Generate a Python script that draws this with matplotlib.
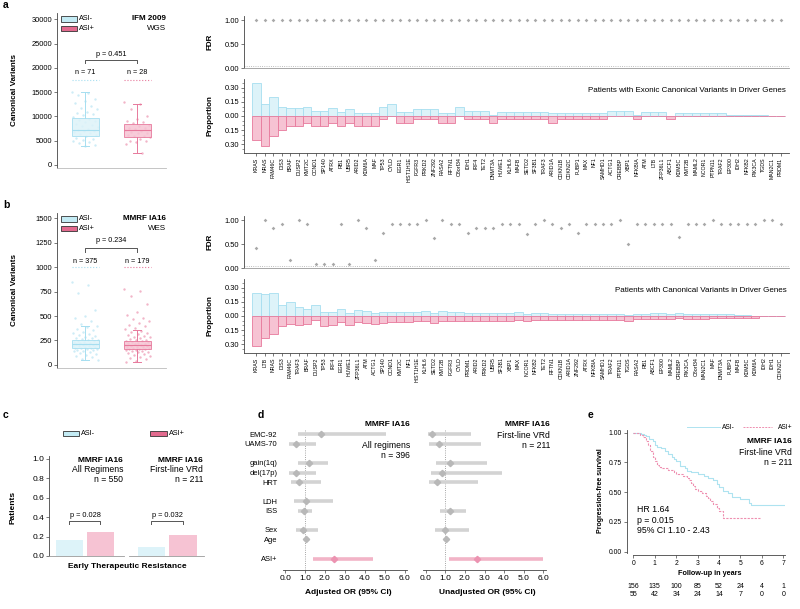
import matplotlib
matplotlib.use("Agg")
import matplotlib.pyplot as plt
import numpy as np
from matplotlib.patches import Rectangle
from matplotlib.lines import Line2D

plt.rcParams['font.family'] = ['Liberation Sans', 'DejaVu Sans']

# ---------------- data ----------------
genes_a = ["KRAS", "NRAS", "FAM46C", "DIS3", "BRAF", "DUSP2", "KMT2C", "CCND1", "SP140", "ATRX",
           "RB1", "UBR5", "ARID2", "KDM6A", "MAF", "TP53", "CYLD", "EGR1", "HIST1H1E", "FGFR3",
           "PRKD2", "ZNF292", "RASA2", "RFTN1", "C8orf34", "IDH1", "IRF4", "TET2", "DNMT3A", "HUWE1",
           "KLHL6", "MAFB", "SETD2", "SF3B1", "TRAF3", "ARID1A", "CDKN1B", "CDKN2C", "FUBP1", "MAX",
           "NF1", "SAMHD1", "ACTG1", "CREBBP", "XBP1", "NFKBIA", "ATM", "LTB", "ZFP36L1", "ABCF1",
           "KDM5C", "KMT2B", "MAML2", "NCOR1", "PTPN11", "TRAF2", "EP300", "IDH2", "NFKB2", "PIK3CA",
           "TGDS", "MAN2C1", "PRDM1"]
# patients with variants (counts), IFM 2009: ASI- n=71, ASI+ n=28
a_neg_counts = [25, 9, 14, 7, 6, 6, 7, 4, 4, 6,
                3, 5, 2, 2, 2, 7, 9, 3, 3, 5,
                5, 5, 2, 2, 7, 4, 4, 4, 1, 3,
                3, 3, 3, 3, 3, 2, 2, 2, 2, 2,
                2, 2, 4, 4, 4, 1, 3, 3, 3, 0,
                2, 2, 2, 2, 2, 2, 1, 1, 1, 1,
                1, 0, 0]
a_pos_counts = [7, 9, 6, 4, 3, 3, 2, 3, 3, 2,
                3, 2, 3, 3, 3, 1, 0, 2, 2, 1,
                1, 1, 2, 2, 0, 1, 1, 1, 2, 1,
                1, 1, 1, 1, 1, 2, 1, 1, 1, 1,
                1, 1, 0, 0, 0, 1, 0, 0, 0, 1,
                0, 0, 0, 0, 0, 0, 0, 0, 0, 0,
                0, 0, 0]
a_n_neg, a_n_pos = 71, 28
a_fdr = [1.0] * 63

genes_b = ["KRAS", "LTB", "NRAS", "DIS3", "FAM46C", "TRAF3", "BRAF", "DUSP2", "TP53", "IRF4",
           "EGR1", "HUWE1", "ZFP36L1", "ATM", "ACTG1", "SP140", "CCND1", "KMT2C", "NF1", "HIST1H1E",
           "KLHL6", "SETD2", "KMT2B", "FGFR3", "CYLD", "PRDM1", "ARID2", "PRKD2", "UBR5", "SF3B1",
           "XBP1", "MAX", "NCOR1", "NFKB2", "TET2", "RFTN1", "CDKN1B", "ARID1A", "ZNF292", "ATRX",
           "NFKBIA", "SAMHD1", "TRAF2", "PTPN11", "TGDS", "RASA2", "RB1", "ABCF1", "EP300", "MAML2",
           "CREBBP", "PIK3CA", "C8orf34", "MAN2C1", "MAF", "DNMT3A", "FUBP1", "MAFB", "KDM5C", "KDM6A",
           "IDH2", "IDH1", "CDKN2C"]
b_neg = [0.240, 0.235, 0.245, 0.115, 0.145, 0.092, 0.072, 0.117, 0.040, 0.040,
         0.072, 0.032, 0.064, 0.050, 0.032, 0.043, 0.045, 0.043, 0.043, 0.045,
         0.050, 0.032, 0.050, 0.043, 0.037, 0.035, 0.035, 0.032, 0.032, 0.032,
         0.032, 0.037, 0.020, 0.027, 0.029, 0.019, 0.019, 0.021, 0.019, 0.019,
         0.019, 0.019, 0.019, 0.021, 0.011, 0.019, 0.024, 0.027, 0.027, 0.021,
         0.030, 0.021, 0.024, 0.024, 0.016, 0.016, 0.016, 0.011, 0.008, 0.005,
         0.005, 0.005, 0.003]
b_pos = [0.315, 0.235, 0.195, 0.110, 0.080, 0.092, 0.088, 0.045, 0.110, 0.100,
         0.060, 0.100, 0.067, 0.078, 0.085, 0.070, 0.060, 0.060, 0.060, 0.056,
         0.056, 0.074, 0.056, 0.056, 0.050, 0.053, 0.050, 0.050, 0.050, 0.050,
         0.050, 0.039, 0.050, 0.046, 0.039, 0.039, 0.039, 0.039, 0.039, 0.039,
         0.039, 0.039, 0.039, 0.039, 0.050, 0.035, 0.035, 0.028, 0.028, 0.035,
         0.025, 0.035, 0.028, 0.028, 0.021, 0.021, 0.021, 0.021, 0.018, 0.018,
         0.004, 0.004, 0.000]
b_fdr = [0.42, 1.00, 0.84, 0.93, 0.17, 1.00, 0.93, 0.10, 0.10, 0.10,
         0.93, 0.10, 1.00, 0.84, 0.17, 0.74, 0.92, 0.92, 0.92, 0.93,
         1.00, 0.64, 1.00, 0.92, 0.93, 0.74, 0.84, 0.84, 0.84, 0.92,
         0.92, 0.93, 0.72, 0.92, 1.00, 0.92, 0.84, 0.93, 0.74, 0.93,
         0.92, 0.92, 0.92, 1.00, 0.51, 0.93, 0.93, 0.93, 0.93, 0.93,
         0.66, 0.93, 0.93, 0.93, 1.00, 0.93, 0.93, 0.92, 0.93, 0.92,
         1.00, 1.00, 0.93]

# canonical variants per patient (box: whislo, q1, median, q3, whishi)
a_box_neg = [4000, 6000, 7200, 9700, 15000]
a_box_pos = [2500, 5800, 7200, 8400, 12500]
a_pts_neg = [15000, 14800, 14500, 13600, 13200, 12800, 12200, 11800, 11500, 11000,
             10800, 10600, 10200, 9900, 9500, 9300, 9000, 8800, 8500, 8200,
             8000, 7800, 7500, 7300, 7100, 6900, 6700, 6500, 6300, 6100,
             5900, 5600, 5400, 5200, 5000, 4800, 4500, 4200, 4000]
a_pts_pos = [13000, 12500, 11500, 10000, 9500, 9000, 8900, 8600, 8300, 8000,
             7700, 7600, 7400, 7200, 7000, 6800, 6600, 6500, 6200, 6000,
             5900, 5700, 5400, 5000, 4900, 4700, 4400, 2500]
b_box_neg = [50, 175, 210, 250, 400]
b_box_pos = [35, 160, 200, 245, 360]
b_pts_neg = [850, 820, 740, 560, 500, 480, 450, 420, 400, 385, 370, 355, 340, 330, 320,
             310, 300, 290, 280, 272, 265, 258, 250, 245, 240, 235, 230, 226, 222, 218,
             214, 210, 206, 202, 198, 194, 190, 186, 182, 178, 174, 170, 165, 160, 155,
             150, 145, 140, 130, 120, 110, 100, 90, 80, 65, 50]
b_pts_pos = [780, 760, 700, 620, 540, 510, 480, 470, 450, 430, 410, 395, 380, 365, 350,
             340, 330, 320, 310, 300, 290, 282, 275, 268, 260, 254, 248, 242, 236, 230,
             225, 220, 215, 210, 205, 200, 196, 192, 188, 184, 180, 176, 172, 168, 164,
             160, 155, 150, 145, 140, 135, 130, 120, 110, 100, 90, 80, 70, 60, 45, 35]

# early therapeutic resistance
c_groups = ["All Regimens", "First-line VRd"]
c_n = [550, 211]
c_neg = [0.165, 0.095]
c_pos = [0.252, 0.216]
c_p = ["p = 0.028", "p = 0.032"]

# odds ratios
d_rows = ["EMC-92", "UAMS-70", "gain(1q)", "del(17p)", "HRT", "LDH", "ISS", "Sex", "Age", "ASI+"]
d_adj_or = [1.81, 0.54, 1.21, 0.55, 0.69, 1.06, 0.94, 0.92, 1.04, 2.46]
d_adj_lo = [0.67, 0.22, 0.67, 0.22, 0.30, 0.47, 0.67, 0.55, 0.99, 1.39]
d_adj_hi = [5.06, 1.54, 2.14, 1.56, 1.78, 2.40, 1.37, 1.66, 1.09, 4.42]
d_una_or = [0.34, 0.68, 1.22, 0.84, 0.59, np.nan, 1.23, 1.00, 1.05, 2.64]
d_una_lo = [0.10, 0.19, 0.51, 0.25, 0.19, np.nan, 0.74, 0.46, 1.01, 1.18]
d_una_hi = [2.33, 2.84, 3.14, 3.87, 2.67, np.nan, 2.08, 2.21, 1.09, 6.00]

# progression-free survival (Kaplan-Meier steps)
e_neg_t = [0, 0.35, 0.5, 0.6, 0.75, 0.9, 1.0, 1.1, 1.3, 1.5, 1.6, 1.8, 1.9, 2.0, 2.2, 2.4, 2.5,
           2.7, 3.0, 3.3, 3.5, 3.7, 3.9, 4.0, 4.2, 4.4, 4.6, 5.0, 5.4, 5.5, 7.1]
e_neg_s = [1.0, 0.99, 0.98, 0.97, 0.95, 0.93, 0.90, 0.88, 0.87, 0.85, 0.82, 0.80, 0.78, 0.76, 0.72,
           0.70, 0.68, 0.67, 0.65, 0.64, 0.62, 0.60, 0.57, 0.54, 0.51, 0.49, 0.46, 0.44, 0.41,
           0.39, 0.39]
e_pos_t = [0, 0.3, 0.45, 0.6, 0.7, 0.8, 0.9, 1.0, 1.1, 1.2, 1.3, 1.6, 1.9, 2.0, 2.3, 2.5, 2.6,
           2.7, 2.8, 2.9, 3.0, 3.2, 3.4, 3.5, 3.6, 3.7, 3.9, 4.0, 4.2, 5.9]
e_pos_s = [1.0, 0.98, 0.96, 0.93, 0.90, 0.85, 0.80, 0.76, 0.73, 0.71, 0.70, 0.69, 0.67, 0.65, 0.64,
           0.62, 0.60, 0.58, 0.55, 0.53, 0.51, 0.49, 0.47, 0.45, 0.43, 0.40, 0.37, 0.34, 0.28,
           0.28]
e_risk_neg = [156, 135, 100, 85, 52, 24, 4, 1]
e_risk_pos = [55, 42, 34, 24, 14, 7, 0, 0]

# ---------------- style ----------------
BLUE_FILL = '#ddf3f9'
BLUE_EDGE = '#a6def0'
PINK_FILL = '#f6c3d3'
PINK_EDGE = '#e7799c'
LEG_BLUE = '#c3ebf4'
LEG_PINK = '#e26a8e'
AXC = '#444444'

W, H = 800, 609
fig = plt.figure(figsize=(8, 6.09), dpi=100)


def add_ax(x0, y0, x1, y1):
    return fig.add_axes([x0 / W, 1 - y1 / H, (x1 - x0) / W, (y1 - y0) / H])


def ftext(x, y, s, **kw):
    kw.setdefault('va', 'center')
    fig.text(x / W, 1 - y / H, s, **kw)


def frect(x0, y0, x1, y1, fc, ec='#333333'):
    fig.add_artist(Rectangle((x0 / W, 1 - y1 / H), (x1 - x0) / W, (y1 - y0) / H,
                             transform=fig.transFigure, fc=fc, ec=ec, lw=0.6))


def clean(ax, size=5.4):
    for s in ['top', 'right']:
        ax.spines[s].set_visible(False)
    for s in ['left', 'bottom']:
        ax.spines[s].set_linewidth(0.6)
        ax.spines[s].set_color(AXC)
    ax.tick_params(width=0.5, length=2, color=AXC, labelsize=size, pad=1.5)


def box_panel(dy, box_neg, box_pos, pts_neg, pts_pos, ylim, yticks, n_lab, n_y, line_y,
              br_y, leg_y, p_lab, p_y, cohort, seq):
    ax = add_ax(57, 13 + dy, 166, 168.3 + dy)
    clean(ax)
    ax.spines['bottom'].set_color('#bbbbbb')
    for pos, pts, col in [(1, pts_neg, BLUE_EDGE), (2, pts_pos, PINK_EDGE)]:
        jit = ((np.arange(len(pts)) * 0.6180339) % 1 - 0.5) * 0.5
        ax.scatter(pos + jit, pts, s=3, color=col, alpha=0.55, lw=0, zorder=1)
    stats = []
    for b in (box_neg, box_pos):
        stats.append(dict(whislo=b[0], q1=b[1], med=b[2], q3=b[3], whishi=b[4]))
    bp = ax.bxp(stats, positions=[1, 2], widths=0.52, patch_artist=True, showfliers=False,
                showcaps=True, capwidths=0.15)
    for i, (fc, ec) in enumerate([(BLUE_FILL, BLUE_EDGE), (PINK_FILL, PINK_EDGE)]):
        bp['boxes'][i].set(facecolor=fc, edgecolor=ec, lw=0.7, alpha=0.85, zorder=2)
        bp['medians'][i].set(color=ec, lw=0.8, zorder=3)
        for w in bp['whiskers'][2 * i:2 * i + 2] + bp['caps'][2 * i:2 * i + 2]:
            w.set(color=ec, lw=0.7)
    for pos, lab, col in [(1, n_lab[0], BLUE_EDGE), (2, n_lab[1], PINK_EDGE)]:
        ax.text(pos, n_y, lab, ha='center', va='center', fontsize=5.2)
        ax.hlines(line_y, pos - 0.26, pos + 0.26, color=col, lw=0.8, ls=':')
    ax.plot([1, 1, 2, 2], [br_y[1], br_y[0], br_y[0], br_y[1]], color='#555555', lw=0.7)
    ax.text(1.5, p_y, p_lab, ha='center', va='center', fontsize=5.2)
    ax.set_xlim(0.456, 2.55)
    ax.set_ylim(*ylim)
    ax.set_yticks(yticks)
    ax.set_xticks([])
    ftext(14, 90.5 + dy, 'Canonical Variants', rotation=90, ha='center', fontsize=5.8,
          fontweight='bold')
    # legend + cohort
    frect(60.7, leg_y - 2.6 + dy, 76.7, leg_y + 2.6 + dy, LEG_BLUE)
    frect(60.7, leg_y + 7.1 + dy, 76.7, leg_y + 12.3 + dy, LEG_PINK)
    ftext(79, leg_y + dy, 'ASI-', fontsize=5.2)
    ftext(79, leg_y + 9.7 + dy, 'ASI+', fontsize=5.2)
    ftext(165.7, leg_y + dy, cohort, ha='right', fontsize=5.8, fontweight='bold')
    ftext(165.7, leg_y + 9.7 + dy, seq, ha='right', fontsize=5.8)


def gene_panels(dy, genes, neg, pos, fdr, title):
    x = np.arange(len(genes))
    # FDR
    ax = add_ax(243.8, 15.5 + dy, 789, 68.3 + dy)
    clean(ax)
    ax.set_xlim(-1.5, 63)
    ax.set_ylim(0, 1.1)
    ax.set_yticks([0, 0.5, 1.0])
    ax.set_yticklabels(['0.00', '0.50', '1.00'])
    ax.set_xticks([])
    ax.spines['bottom'].set_color('#999999')
    ax.axhline(0.05, color='#aaaaaa', lw=0.6, ls=':')
    ax.scatter(x, fdr, marker='D', s=3.5, color='#a8a8a8', lw=0, zorder=3)
    ftext(210, 42 + dy, 'FDR', rotation=90, ha='center', fontsize=5.8, fontweight='bold')
    # proportions
    ax = add_ax(243.8, 78.7 + dy, 789, 153.3 + dy)
    clean(ax)
    ax.set_xlim(-1.5, 63)
    ax.set_ylim(-0.394, 0.394)
    ax.bar(x, neg, width=1, color=BLUE_FILL, edgecolor=BLUE_EDGE, lw=0.6)
    ax.bar(x, -np.asarray(pos), width=1, color=PINK_FILL, edgecolor=PINK_EDGE, lw=0.6)
    ticks = [-0.30, -0.15, 0, 0.15, 0.30]
    ax.set_yticks(ticks)
    ax.set_yticklabels(['%.2f' % abs(t) for t in ticks])
    ax.set_yticks(np.arange(-0.35, 0.36, 0.05), minor=True)
    ax.tick_params(which='minor', length=1.5, width=0.4, color=AXC)
    ax.set_xticks(x)
    ax.set_xticklabels(genes, rotation=90, fontsize=3.8)
    ax.tick_params(axis='x', pad=1)
    ax.text(0.995, 0.84, title, transform=ax.transAxes, ha='right', va='center', fontsize=5.8)
    ftext(210, 116 + dy, 'Proportion', rotation=90, ha='center', fontsize=5.8,
          fontweight='bold')


# ---------------- a ----------------
ftext(3, 5, 'a', fontsize=7.5, fontweight='bold')
box_panel(0, a_box_neg, a_box_pos, a_pts_neg, a_pts_pos, (-680, 31300),
          [0, 5000, 10000, 15000, 20000, 25000, 30000],
          ['n = %d' % a_n_neg, 'n = %d' % a_n_pos], 19000, 17500, (21560, 20940), 19,
          'p = 0.451', 22855, 'IFM 2009', 'WGS')
gene_panels(0, genes_a, np.array(a_neg_counts) / a_n_neg, np.array(a_pos_counts) / a_n_pos,
            a_fdr, 'Patients with Exonic Canonical Variants in Driver Genes')

# ---------------- b ----------------
ftext(3, 205, 'b', fontsize=7.5, fontweight='bold')
box_panel(200, b_box_neg, b_box_pos, b_pts_neg, b_pts_pos, (-34, 1552),
          [0, 250, 500, 750, 1000, 1250, 1500], ['n = 375', 'n = 179'], 1058, 1000,
          (1197, 1155), 19, 'p = 0.234', 1269, 'MMRF IA16', 'WES')
gene_panels(200, genes_b, b_neg, b_pos, b_fdr, 'Patients with Canonical Variants in Driver Genes')

# ---------------- c ----------------
ftext(3, 415, 'c', fontsize=7.5, fontweight='bold')
frect(63, 430.7, 79, 435.5, LEG_BLUE)
ftext(81, 433.3, 'ASI-', fontsize=5.2)
frect(150, 430.7, 167, 435.5, LEG_PINK)
ftext(169, 433.3, 'ASI+', fontsize=5.2)
for k, (x0, x1, xl) in enumerate([(49, 124, (-0.66, 1.76)), (129, 204, (-0.71, 1.67))]):
    ax = add_ax(x0, 456, x1, 556)
    clean(ax, size=6)
    ax.set_xlim(*xl)
    ax.set_ylim(0, 1.03)
    ax.set_xticks([])
    ax.spines['bottom'].set_color('#999999')
    ax.bar([0, 1], [c_neg[k], c_pos[k]], width=0.87, color=[BLUE_FILL, PINK_FILL],
           edgecolor='none')
    ax.plot([0, 0, 1, 1], [0.33, 0.36, 0.36, 0.33], color='#555555', lw=0.7)
    ax.text(0.5, 0.42, c_p[k], ha='center', va='center', fontsize=5.3)
    if k == 0:
        ax.set_yticks([0, 0.2, 0.4, 0.6, 0.8, 1.0])
        ax.set_yticklabels(['0.0', '0.2', '0.4', '0.6', '0.8', '1.0'])
    else:
        ax.set_yticks([])
        ax.spines['left'].set_visible(False)
    xr = x1 - 1
    ftext(xr, 460, 'MMRF IA16', ha='right', fontsize=6, fontweight='bold')
    ftext(xr, 470, c_groups[k], ha='right', fontsize=6.2)
    ftext(xr, 480, 'n = %d' % c_n[k], ha='right', fontsize=6.2)
ftext(13, 507, 'Patients', rotation=90, ha='center', fontsize=6, fontweight='bold')
ftext(127, 567, 'Early Therapeutic Resistance', ha='center', fontsize=6, fontweight='bold')

# ---------------- d ----------------
ftext(258, 415, 'd', fontsize=7.5, fontweight='bold')
ypos = [0, 1, 3, 4, 5, 7, 8, 10, 11, 13]
for k, (x0, x1, est, lo, hi, lab) in enumerate([
        (282.7, 407, d_adj_or, d_adj_lo, d_adj_hi, 'Adjusted OR (95% CI)'),
        (423.3, 545.7, d_una_or, d_una_lo, d_una_hi, 'Unadjusted OR (95% CI)')]):
    ax = add_ax(x0, 425, x1, 570)
    clean(ax, size=6)
    ax.spines['left'].set_visible(False)
    ax.set_xlim(-0.12, 6.12)
    ax.set_ylim(14.2, -0.97)
    ax.axvline(1.0, color='#888888', lw=0.6, ls=':', ymax=0.97)
    for i, y in enumerate(ypos):
        if np.isnan(est[i]):
            continue
        last = i == len(ypos) - 1
        lc = '#f2b4c7' if last else '#d3d3d3'
        mc = '#ec93b1' if last else '#b8b8b8'
        ax.plot([lo[i], hi[i]], [y, y], color=lc, lw=2.6, solid_capstyle='butt', zorder=2)
        ax.plot(est[i], y, marker='D', ms=3.2, color=mc, mec=mc, zorder=3)
    ax.set_xticks(np.arange(0, 7))
    ax.set_xticklabels(['%.1f' % v for v in range(7)])
    if k == 0:
        ax.set_yticks(ypos)
        ax.set_yticklabels(d_rows, fontsize=5.4)
        ax.tick_params(axis='y', length=0, pad=4)
    else:
        ax.set_yticks([])
    ftext((x0 + x1) / 2 + 3, 593, lab, ha='center', fontsize=6, fontweight='bold')
ftext(410, 425, 'MMRF IA16', ha='right', fontsize=6, fontweight='bold')
ftext(410, 445, 'All regimens', ha='right', fontsize=6.2)
ftext(410, 455, 'n = 396', ha='right', fontsize=6.2)
ftext(550, 425, 'MMRF IA16', ha='right', fontsize=6, fontweight='bold')
ftext(550, 435, 'First-line VRd', ha='right', fontsize=6.2)
ftext(550, 445, 'n = 211', ha='right', fontsize=6.2)

# ---------------- e ----------------
ftext(588, 415, 'e', fontsize=7.5, fontweight='bold')
ax = add_ax(632.7, 430, 785, 553.3)
clean(ax, size=4.9)
ax.spines['left'].set_position(('outward', 4.3))
ax.spines['bottom'].set_position(('outward', 1.5))
ax.set_xlim(-0.03, 7.08)
ax.set_ylim(-0.013, 1.023)
ax.step(e_neg_t, e_neg_s, where='post', color='#aee3f0', lw=0.8)
ax.step(e_pos_t, e_pos_s, where='post', color='#ee8fb0', lw=0.8, ls=(0, (2, 1.2)))
ax.set_xticks(range(8))
ax.set_yticks([0, 0.25, 0.5, 0.75, 1.0])
ax.set_yticklabels(['0.00', '0.25', '0.50', '0.75', '1.00'])
ax.text(0.03, 0.27, 'HR 1.64\np = 0.015\n95% CI 1.10 - 2.43', transform=ax.transAxes,
        ha='left', va='center', fontsize=6.3, linespacing=1.15)
fig.add_artist(Line2D([686.7 / W, 720 / W], [1 - 427.3 / H] * 2, color='#aee3f0', lw=0.7))
ftext(722, 427.3, 'ASI-', fontsize=4.8)
fig.add_artist(Line2D([743 / W, 772 / W], [1 - 427.3 / H] * 2, color='#ee8fb0', lw=0.7,
                      ls=(0, (2, 1.2))))
ftext(778, 427.3, 'ASI+', fontsize=4.8)
ftext(792, 441.7, 'MMRF IA16', ha='right', fontsize=6, fontweight='bold')
ftext(792, 452.3, 'First-line VRd', ha='right', fontsize=6.2)
ftext(792, 462.3, 'n = 211', ha='right', fontsize=6.2)
ftext(601, 491, 'Progression-free survival', rotation=90, ha='center', fontsize=5,
      fontweight='bold')
ftext(710, 573.3, 'Follow-up in years', ha='center', fontsize=5.2, fontweight='bold')
for t in range(8):
    xx = 633.3 + 21.43 * t
    ftext(xx, 586.7, str(e_risk_neg[t]), ha='center', fontsize=5)
    ftext(xx, 594, str(e_risk_pos[t]), ha='center', fontsize=5)

fig.savefig('out.png', dpi=100)
